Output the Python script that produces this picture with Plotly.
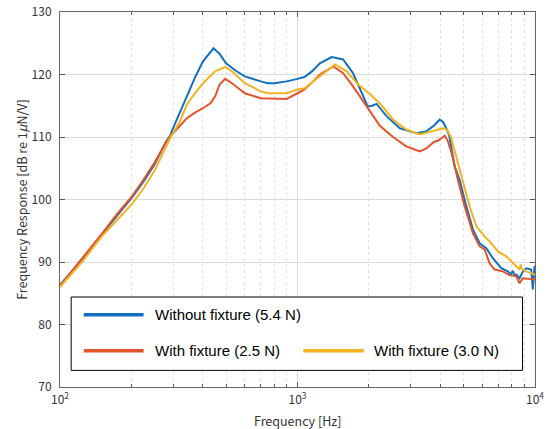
import plotly.graph_objects as go

# ---- data ----
freq_without = [100, 125, 150, 175, 200, 225, 250, 280, 291, 300, 320, 342, 370, 400, 443, 470, 500,
                550, 600, 700, 750, 800, 900, 1000, 1070, 1150, 1242, 1393, 1556, 1714, 1861, 1975,
                2060, 2154, 2250, 2375, 2700, 3170, 3480, 3750, 3970, 4100, 4240, 4350, 4590, 4818,
                5140, 5480, 5845, 6237, 6648, 7211, 7687, 7900, 8066, 8200, 8337, 8608, 8900, 9184,
                9638, 9790, 9953, 10000]
resp_without = [86.3, 90.6, 94.4, 97.6, 100.2, 102.9, 105.6, 109.3, 110.2, 111.5, 114.0, 116.5, 119.5,
                122.1, 124.2, 123.3, 121.8, 120.6, 119.7, 118.9, 118.6, 118.6, 118.9, 119.3, 119.6,
                120.5, 121.8, 122.8, 122.4, 120.2, 117.0, 114.9, 115.0, 115.3, 114.4, 113.3, 111.4,
                110.6, 110.9, 111.8, 112.8, 112.4, 111.3, 110.3, 105.3, 103.1, 98.9, 95.2, 93.0, 92.2,
                90.6, 89.0, 88.5, 88.0, 88.6, 87.8, 88.0, 87.4, 88.5, 89.0, 88.8, 85.6, 89.2, 89.4]

freq_fix25 = [100, 125, 150, 175, 200, 225, 250, 280, 291, 320, 342, 370, 400, 430, 450, 470, 496,
              530, 600, 700, 800, 900, 1000, 1070, 1150, 1242, 1416, 1556, 1714, 1954, 2222, 2525,
              2870, 3273, 3500, 3750, 3900, 4170, 4300, 4450, 4690, 4738, 5056, 5480, 5845, 6135,
              6440, 6759, 7324, 7813, 8337, 8608, 8887, 10000]
resp_fix25 = [86.2, 90.7, 94.5, 97.8, 100.4, 103.2, 105.9, 109.2, 110.1, 111.8, 113.0, 113.9, 114.6,
              115.4, 116.5, 118.4, 119.3, 118.6, 117.0, 116.2, 116.1, 116.1, 117.0, 117.6, 118.7,
              120.0, 121.3, 120.2, 118.1, 114.9, 111.8, 110.0, 108.5, 107.7, 108.2, 109.2, 109.4,
              110.2, 109.3, 107.5, 103.7, 103.1, 98.9, 94.6, 92.5, 92.0, 89.8, 88.8, 88.5, 87.9,
              87.7, 86.6, 87.4, 87.2]

freq_fix30 = [100, 125, 150, 175, 200, 225, 250, 280, 291, 320, 342, 370, 400, 450, 496, 530, 600,
              700, 750, 900, 1000, 1070, 1150, 1242, 1439, 1611, 1800, 2000, 2221, 2525, 2870, 3273,
              3715, 4100, 4250, 4420, 4818, 4944, 5306, 5662, 6135, 6546, 6979, 7568, 8066, 8500,
              8608, 8700, 8800, 9184, 10000]
resp_fix30 = [86.0, 90.2, 94.1, 96.9, 99.2, 101.8, 104.6, 108.5, 109.8, 112.5, 115.2, 117.0, 118.6,
              120.5, 121.2, 120.5, 118.6, 117.3, 117.0, 117.0, 117.6, 117.8, 118.7, 119.7, 121.6,
              120.5, 118.4, 117.0, 115.4, 112.8, 111.2, 110.4, 110.9, 111.4, 111.2, 110.1, 104.8,
              103.1, 98.9, 95.7, 94.1, 93.0, 91.7, 90.9, 89.8, 89.0, 88.8, 89.6, 88.9, 88.5, 88.0]

series_names = ["Without fixture (5.4 N)", "With fixture (2.5 N)", "With fixture (3.0 N)"]
series_colors = ["#1070BE", "#E2552B", "#F0B323"]
x_tick_vals = [100, 1000, 10000]
x_tick_text = ["10<sup>2</sup>", "10<sup>3</sup>", "10<sup>4</sup>"]
y_tick_vals = [70, 80, 90, 100, 110, 120, 130]

# ---- figure ----
fig = go.Figure()
for fx, fy, name, col in zip([freq_without, freq_fix25, freq_fix30],
                             [resp_without, resp_fix25, resp_fix30],
                             series_names, series_colors):
    fig.add_trace(go.Scatter(x=fx, y=fy, mode="lines", name=name,
                             line=dict(color=col, width=2), showlegend=False))

W, H = 549, 429
ml, mr, mt, mb = 59.5, 13.5, 12.3, 41.7
pw, ph = W - ml - mr, H - mt - mb

def px2paper(x, y):
    return (x - ml) / pw, (H - mb - y) / ph

shapes = []
annotations = []
# legend box
bx0, by0 = px2paper(70.7, 370.7)
bx1, by1 = px2paper(523, 297.3)
shapes.append(dict(type="rect", xref="paper", yref="paper", x0=bx0, y0=by0, x1=bx1, y1=by1,
                   line=dict(color="black", width=1), fillcolor="white", layer="above"))
legend_items = [
    (83.3, 143.3, 315, 152.7),
    (83.3, 143.3, 351, 152.7),
    (303.3, 364, 351, 372.3),
]
for (lx0, lx1, ly, tx), name, col in zip(legend_items, series_names, series_colors):
    a0, b0 = px2paper(lx0, ly)
    a1, _ = px2paper(lx1, ly)
    shapes.append(dict(type="line", xref="paper", yref="paper", x0=a0, y0=b0, x1=a1, y1=b0,
                       line=dict(color=col, width=3.5), layer="above"))
    t0, _ = px2paper(tx, ly)
    annotations.append(dict(xref="paper", yref="paper", x=t0, y=b0, text=name, showarrow=False,
                            xanchor="left", yanchor="middle",
                            font=dict(family="Liberation Sans, Arial", size=15, color="black")))

axis_font = dict(family="Noto Sans CJK JP", size=12, color="#333333")
title_font = dict(family="Noto Sans CJK JP", size=12.5, color="#333333")

# x-axis title placed explicitly
xt_x, xt_y = px2paper(297.5, 420.5)
annotations.append(dict(xref="paper", yref="paper", x=xt_x, y=xt_y, text="Frequency [Hz]",
                        showarrow=False, xanchor="center", yanchor="middle", font=title_font))

fig.update_layout(
    width=W, height=H,
    margin=dict(l=ml, r=mr, t=mt, b=mb, pad=0, autoexpand=False),
    paper_bgcolor="white", plot_bgcolor="white",
    shapes=shapes, annotations=annotations,
    font=axis_font,
    xaxis=dict(type="log", range=[2, 4], tickmode="array", tickvals=x_tick_vals, ticktext=x_tick_text,
               showgrid=True, gridcolor="#DCDCDC", gridwidth=1,
               ticks="inside", ticklen=5, tickcolor="#555555",
               showline=True, linecolor="#666666", linewidth=1, mirror="ticks",
               minor=dict(dtick="D1", showgrid=True, gridcolor="#E2E2E2", griddash="dot",
                          ticks="inside", ticklen=3, tickcolor="#555555"),
               tickfont=axis_font, zeroline=False, automargin=False, ticklabelstandoff=2,
               ticklabeloverflow="allow"),
    yaxis=dict(range=[70, 130], tickmode="array", tickvals=y_tick_vals,
               showgrid=True, gridcolor="#DCDCDC", gridwidth=1,
               ticks="inside", ticklen=5, tickcolor="#555555",
               showline=True, linecolor="#666666", linewidth=1, mirror="ticks",
               title=dict(text="Frequency Response [dB re 1<i>μ</i>N/V]", font=title_font, standoff=1),
               tickfont=axis_font, zeroline=False, automargin=False, ticklabelstandoff=5,
               ticklabeloverflow="allow"),
)

fig.write_html("out.html", config={"displayModeBar": False},
               post_script="document.body.style.margin='0px';document.body.style.overflow='hidden';")
